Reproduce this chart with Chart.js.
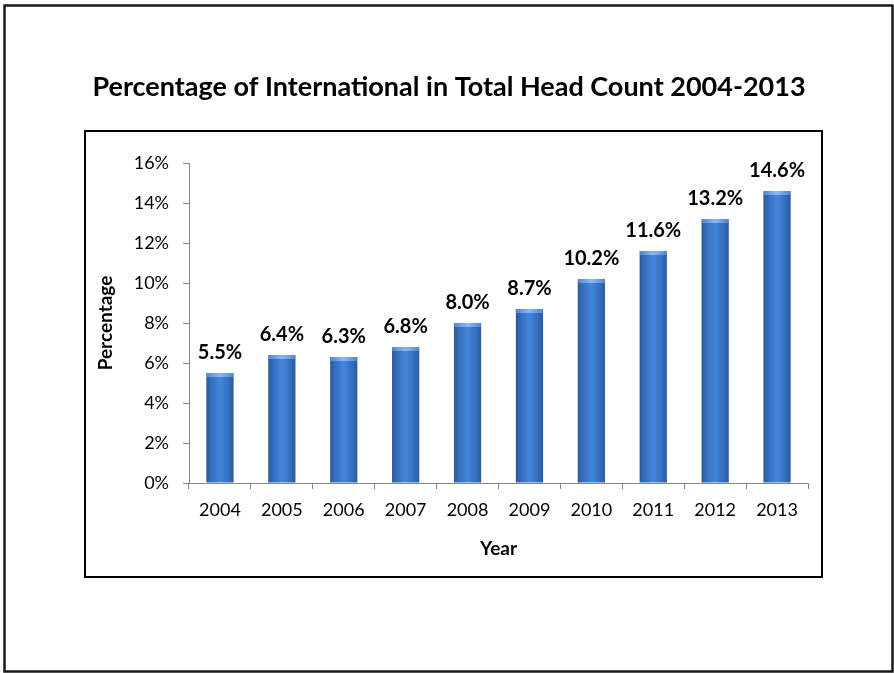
<!DOCTYPE html>
<html>
<head>
<meta charset="utf-8">
<script src="https://cdn.jsdelivr.net/npm/chart.js@4"></script>
<style>
  html, body { margin: 0; padding: 0; background: #fff; }
  #wrap { width: 894px; height: 673px; }
</style>
</head>
<body>
<div id="wrap"><canvas id="chart" width="894" height="673"></canvas></div>
<script>
const years = ['2004', '2005', '2006', '2007', '2008', '2009', '2010', '2011', '2012', '2013'];
const pctValues = [5.5, 6.4, 6.3, 6.8, 8.0, 8.7, 10.2, 11.6, 13.2, 14.6];
const yTicks = [0, 2, 4, 6, 8, 10, 12, 14, 16];

const FONT = 'Lato, "Open Sans", sans-serif';
const BAR_RATIO = 0.44;

// frame around the slide and the chart box
const framePlugin = {
    id: 'frames',
    beforeDraw(chart) {
        const c = chart.ctx;
        c.save();
        c.strokeStyle = '#1a1a1a';
        c.lineWidth = 2.5;
        c.strokeRect(4.5, 5.5, 888, 666);
        c.strokeStyle = '#000';
        c.lineWidth = 2;
        c.strokeRect(85, 131, 737, 446);
        c.restore();
    }
};

// light cap on top of each bar + value labels above
const valueLabels = {
    id: 'valueLabels',
    afterDatasetsDraw(chart) {
        const c = chart.ctx;
        const meta = chart.getDatasetMeta(0);
        c.save();
        meta.data.forEach(bar => {
            const w = bar.width;
            const g = c.createLinearGradient(bar.x - w / 2, 0, bar.x + w / 2, 0);
            g.addColorStop(0, 'rgba(120,170,235,0.5)');
            g.addColorStop(0.5, 'rgba(140,190,250,0.9)');
            g.addColorStop(1, 'rgba(120,170,235,0.5)');
            c.fillStyle = g;
            c.fillRect(bar.x - w / 2, bar.y, w, 4);
        });
        c.font = 'bold 20px ' + FONT;
        c.fillStyle = '#000';
        c.textAlign = 'center';
        c.textBaseline = 'middle';
        meta.data.forEach((bar, i) => {
            c.fillText(pctValues[i].toFixed(1) + '%', bar.x, bar.y - 20);
        });
        c.restore();
    }
};

function barFill(context) {
    const chart = context.chart;
    const area = chart.chartArea;
    if (!area) return '#3a78c8';
    const xs = chart.scales.x;
    const cx = xs.getPixelForValue(context.dataIndex);
    const w = (xs.width / years.length) * BAR_RATIO;
    const g = chart.ctx.createLinearGradient(cx - w / 2, 0, cx + w / 2, 0);
    g.addColorStop(0, '#2c5a9a');
    g.addColorStop(0.2, '#376fbe');
    g.addColorStop(0.5, '#4385dc');
    g.addColorStop(0.8, '#376fbe');
    g.addColorStop(1, '#2c5a9a');
    return g;
}

new Chart(document.getElementById('chart'), {
    type: 'bar',
    data: {
        labels: years,
        datasets: [{
            label: 'Percentage',
            data: pctValues,
            backgroundColor: barFill,
            borderWidth: 0,
            categoryPercentage: 1,
            barPercentage: BAR_RATIO
        }]
    },
    options: {
        responsive: false,
        animation: false,
        events: [],
        layout: { padding: { left: 90, right: 86, top: 0, bottom: 113 } },
        plugins: {
            legend: { display: false },
            tooltip: { enabled: false },
            title: {
                display: true,
                text: 'Percentage of International in Total Head Count 2004-2013',
                color: '#000',
                font: { family: FONT, size: 27, weight: 'bold', lineHeight: 1.2 },
                padding: { top: 71, bottom: 59.6 }
            }
        },
        scales: {
            x: {
                afterFit(s) { s.height = 77; },
                grid: {
                    display: true,
                    drawOnChartArea: false,
                    drawTicks: true,
                    tickLength: 6,
                    color: '#868686',
                    offset: true
                },
                border: { display: true, color: '#868686', width: 1 },
                ticks: {
                    color: '#000',
                    font: { family: FONT, size: 18 },
                    padding: 10,
                    maxRotation: 0
                },
                title: {
                    display: true,
                    text: 'Year',
                    color: '#000',
                    font: { family: FONT, size: 19, weight: 'bold' },
                    padding: { top: 0, bottom: 0 }
                }
            },
            y: {
                min: 0,
                max: 16,
                afterFit(s) { s.width = 99; },
                afterBuildTicks(s) { s.ticks = yTicks.map(v => ({ value: v })); },
                grid: {
                    display: true,
                    drawOnChartArea: false,
                    drawTicks: true,
                    tickLength: 6,
                    color: '#868686'
                },
                border: { display: true, color: '#868686', width: 1 },
                ticks: {
                    color: '#000',
                    font: { family: FONT, size: 18 },
                    padding: 14,
                    callback: v => v + '%'
                },
                title: {
                    display: true,
                    text: 'Percentage',
                    color: '#000',
                    font: { family: FONT, size: 19, weight: 'bold' },
                    padding: { top: 4, bottom: 0 }
                }
            }
        }
    },
    plugins: [framePlugin, valueLabels]
});
</script>
</body>
</html>
